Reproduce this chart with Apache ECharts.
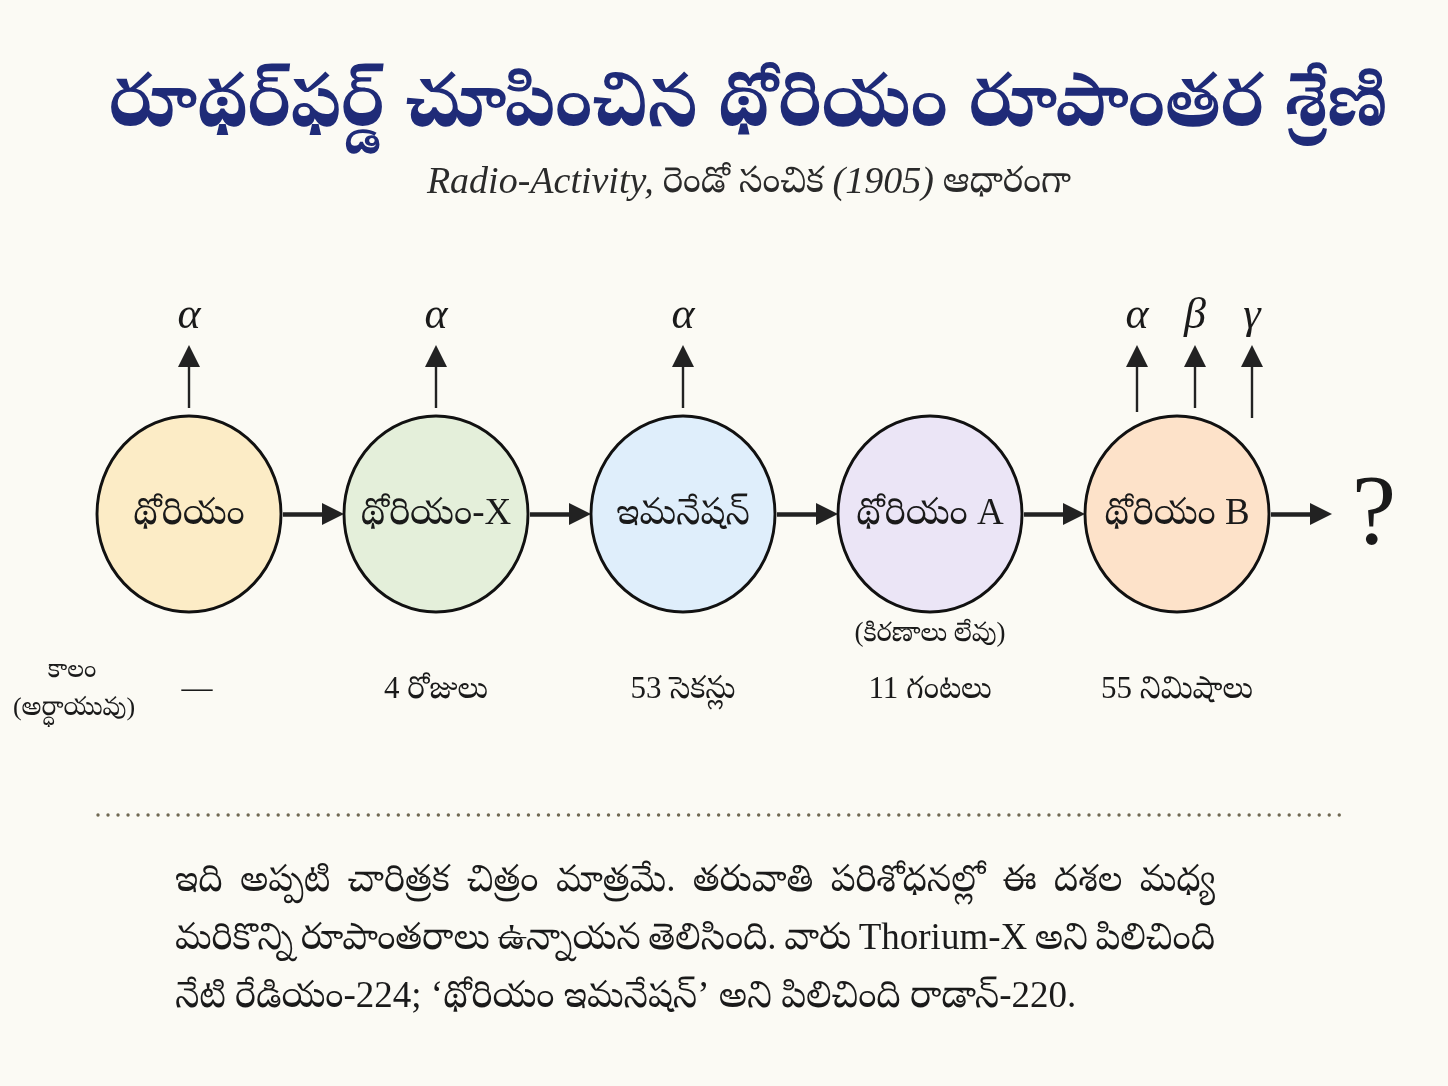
<!DOCTYPE html>
<html><head><meta charset="utf-8">
<script src="https://cdn.jsdelivr.net/npm/echarts@6/dist/echarts.min.js"></script>
<style>html,body{margin:0;padding:0;background:#fbfaf4}#c{width:1448px;height:1086px}</style>
</head><body><div id="c"></div>
<script>
// ---- data ----
const stages = ['థోరియం', 'థోరియం-X', 'ఇమనేషన్', 'థోరియం A', 'థోరియం B'];
const rays = [['α'], ['α'], ['α'], [], ['α', 'β', 'γ']];
const halfLives = ['—', '4 రోజులు', '53 సెకన్లు', '11 గంటలు', '55 నిమిషాలు'];
const notes = ['', '', '', '(కిరణాలు లేవు)', ''];
const endLabel = '?';
const rowLabel = ['కాలం', '(అర్ధాయువు)'];
const titleText = 'రూథర్‌ఫర్డ్ చూపించిన థోరియం రూపాంతర శ్రేణి';
const subtitleParts = ['Radio-Activity,', ' రెండో సంచిక ', '(1905)', ' ఆధారంగా'];
const paragraph = [
  'ఇది అప్పటి చారిత్రక చిత్రం మాత్రమే. తరువాతి పరిశోధనల్లో ఈ దశల మధ్య',
  'మరికొన్ని రూపాంతరాలు ఉన్నాయన తెలిసింది. వారు Thorium-X అని పిలిచింది',
  'నేటి రేడియం-224; ‘థోరియం ఇమనేషన్’ అని పిలిచింది రాడాన్-220.'
];

// ---- layout / style ----
const W = 1448, H = 1086;
const STEP = 247, X0 = 189;
const px = v => v / STEP;
const ROW_Y = 514, HALF_Y = 690, NOTE_Y = 634, RAY_TIP = 345, RAY_LABEL_Y = 316;
const HEAD = 22; // arrow head length (triangle is centred on the end point)
const fills = ['#fcecc6', '#e4efda', '#dfeefb', '#ebe5f6', '#fde2c9'];
const TE = "'Liberation Serif','Noto Serif Telugu','Noto Sans Telugu',serif";
const TEB = "'Noto Serif Telugu','Noto Sans Telugu',serif";
const SERIF = "'Liberation Serif','DejaVu Serif',serif";
const ink = '#1a1a1a';
const PARA_X = 175, PARA_W = 1040, PARA_Y = 881, PARA_LH = 58, PARA_FONT = "37px " + TE;

const stageData = stages.map((s, i) => ({ value: [i, ROW_Y], name: s, itemStyle: { color: fills[i] } }));

const flowLines = [];
for (let i = 0; i < stages.length; i++) {
  flowLines.push({ coords: [[i + px(94), ROW_Y], [i + px(155 - HEAD / 2), ROW_Y]] });
}
const rayLayout = { 1: [[0, 408]], 3: [[-40, 412], [18, 408], [75, 418]] };
const rayLines = [], rayLabels = [];
rays.forEach((r, i) => {
  if (!r.length) return;
  const lay = rayLayout[r.length];
  r.forEach((sym, k) => {
    const x = i + px(lay[k][0]);
    rayLines.push({ coords: [[x, lay[k][1]], [x, RAY_TIP + HEAD / 2]] });
    rayLabels.push({ value: [x, RAY_LABEL_Y], name: sym });
  });
});

// justified paragraph (all lines but the last)
const ctx = document.createElement('canvas').getContext('2d');
ctx.font = PARA_FONT;
const paraGraphics = [];
paragraph.forEach((line, k) => {
  const y = PARA_Y + k * PARA_LH;
  if (k === paragraph.length - 1) {
    paraGraphics.push({ type: 'text', x: PARA_X, y, style: { text: line, font: PARA_FONT, fill: ink, verticalAlign: 'middle' } });
    return;
  }
  const words = line.split(' ');
  const widths = words.map(w => ctx.measureText(w).width);
  const total = widths.reduce((a, b) => a + b, 0);
  const gap = (PARA_W - total) / (words.length - 1);
  let x = PARA_X;
  words.forEach((w, j) => {
    paraGraphics.push({ type: 'text', x, y, style: { text: w, font: PARA_FONT, fill: ink, verticalAlign: 'middle' } });
    x += widths[j] + gap;
  });
});

const txt = (size, extra) => Object.assign({ show: true, position: 'inside', formatter: p => p.name, color: ink, fontSize: size, fontFamily: TE }, extra || {});

const option = {
  backgroundColor: '#fbfaf4',
  animation: false,
  grid: { left: 0, right: 0, top: 0, bottom: 0 },
  xAxis: { type: 'value', min: -px(X0), max: -px(X0) + px(W), show: false },
  yAxis: { type: 'value', min: 0, max: H, inverse: true, show: false },
  graphic: [
    { type: 'text', x: 748, y: 114, style: { text: titleText, font: "bold 74px " + TEB, fill: '#1f2b78', align: 'center', verticalAlign: 'middle' } },
    { type: 'text', x: 749, y: 183, style: {
        text: '{i|' + subtitleParts[0] + '}{t|' + subtitleParts[1] + '}{i|' + subtitleParts[2] + '}{t|' + subtitleParts[3] + '}',
        align: 'center', verticalAlign: 'middle',
        rich: { i: { font: "italic 38px " + SERIF, fill: '#2a2a2a' }, t: { font: "36px " + TE, fill: '#2a2a2a' } } } },
    { type: 'text', x: 72, y: 670, style: { text: rowLabel[0], font: "25px " + TE, fill: ink, align: 'center', verticalAlign: 'middle' } },
    { type: 'text', x: 74, y: 708, style: { text: rowLabel[1], font: "26px " + TE, fill: ink, align: 'center', verticalAlign: 'middle' } },
    { type: 'line', shape: { x1: 98, y1: 815, x2: 1345, y2: 815 }, style: { stroke: '#6f6852', lineWidth: 3.4, lineDash: [0.01, 10], lineCap: 'round' } },
    ...paraGraphics
  ],
  series: [
    { type: 'lines', coordinateSystem: 'cartesian2d', z: 3,
      symbol: ['none', 'triangle'], symbolSize: [20, HEAD],
      lineStyle: { color: '#222', width: 4.5, opacity: 1 }, data: flowLines },
    { type: 'lines', coordinateSystem: 'cartesian2d', z: 3,
      symbol: ['none', 'triangle'], symbolSize: [15, HEAD],
      lineStyle: { color: '#222', width: 2.4, opacity: 1 }, data: rayLines },
    { type: 'scatter', symbol: 'circle', symbolSize: [184, 196], z: 4,
      itemStyle: { borderColor: '#111', borderWidth: 3, opacity: 1 },
      label: txt(37),
      emphasis: { disabled: true },
      data: stageData },
    { type: 'scatter', symbolSize: 0, z: 5, itemStyle: { opacity: 1 },
      label: txt(44, { fontStyle: 'italic', fontFamily: SERIF }), data: rayLabels },
    { type: 'scatter', symbolSize: 0, z: 5, itemStyle: { opacity: 1 },
      label: txt(31),
      data: halfLives.map((h, i) => ({ value: [i + (i === 0 ? px(8) : 0), HALF_Y], name: h })) },
    { type: 'scatter', symbolSize: 0, z: 5, itemStyle: { opacity: 1 },
      label: txt(27),
      data: notes.map((n, i) => ({ value: [i, NOTE_Y], name: n })).filter(d => d.name) },
    { type: 'scatter', symbolSize: 0, z: 5, itemStyle: { opacity: 1 },
      label: txt(100, { fontFamily: SERIF }),
      data: [{ value: [stages.length - 1 + px(197), ROW_Y + 3], name: endLabel }] }
  ]
};
const chart = echarts.init(document.getElementById('c'));
chart.setOption(option);
</script></body></html>
